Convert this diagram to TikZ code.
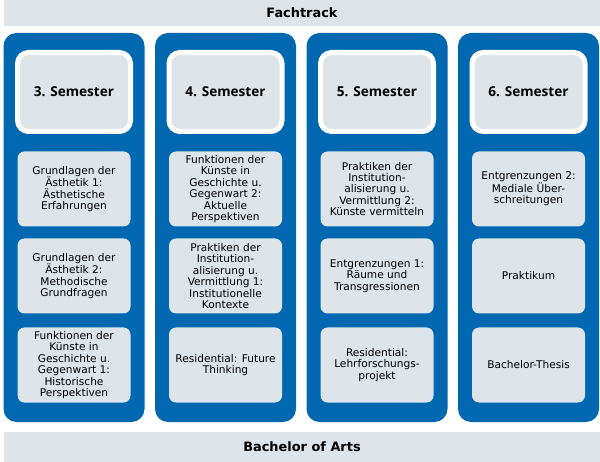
\documentclass[tikz,border=0pt]{standalone}
\usepackage{fontspec}
\setmainfont{DejaVu Sans}
\newfontfamily\semfont{Open Sans}

\definecolor{ftblue}{HTML}{0067B1}
\definecolor{ftpale}{HTML}{DDE4EA}

\begin{document}
\begin{tikzpicture}[
  x=1pt, y=-1pt,
  font=\fontsize{10.6}{11.4}\selectfont,
  bar/.style={fill=ftpale, minimum width=596pt, inner sep=0pt,
    font=\fontsize{12.9}{14}\selectfont\bfseries},
  column/.style={fill=ftblue, rounded corners=13pt,
    minimum width=141pt, minimum height=389pt},
  semhead/.style={fill=ftpale, draw=white, line width=5pt,
    rounded corners=11pt, minimum width=113pt, minimum height=79pt,
    font=\semfont\bfseries\fontsize{13.6}{16}\selectfont},
  course/.style={fill=ftpale, rounded corners=7pt, inner sep=0pt,
    minimum width=113pt, minimum height=75pt, align=center},
]
\useasboundingbox (0,0) rectangle (600,462);

\node[bar, minimum height=26pt] (fachtrack) at (302,13) {Fachtrack};
\node[bar, minimum height=30pt] (bachelor) at (302,447) {Bachelor of Arts};

\foreach \n/\x in {3/74, 4/225.5, 5/377, 6/528.5} {
  \node[column] (col\n) at (\x,227.5) {};
  \node[semhead] (sem\n) at (\x,92) {\n. Semester};
}

% 3. Semester
\node[course] (c3a) at (74,189) {Grundlagen der\\Ästhetik 1:\\Ästhetische\\Erfahrungen};
\node[course] (c3b) at (74,276) {Grundlagen der\\Ästhetik 2:\\Methodische\\Grundfragen};
\node[course] (c3c) at (74,365) {Funktionen der\\Künste in\\Geschichte u.\\Gegenwart 1:\\Historische\\Perspektiven};

% 4. Semester
\node[course] (c4a) at (225.5,189) {Funktionen der\\Künste in\\Geschichte u.\\Gegenwart 2:\\Aktuelle\\Perspektiven};
\node[course] (c4b) at (225.5,276) {Praktiken der\\Institution-\\alisierung u.\\Vermittlung 1:\\Institutionelle\\Kontexte};
\node[course] (c4c) at (225.5,365) {Residential: Future\\Thinking};

% 5. Semester
\node[course] (c5a) at (377,189) {Praktiken der\\Institution-\\alisierung u.\\Vermittlung 2:\\Künste vermitteln};
\node[course] (c5b) at (377,276) {Entgrenzungen 1:\\Räume und\\Transgressionen};
\node[course] (c5c) at (377,365) {Residential:\\Lehrforschungs-\\projekt};

% 6. Semester
\node[course] (c6a) at (528.5,189) {Entgrenzungen 2:\\Mediale Über-\\schreitungen};
\node[course] (c6b) at (528.5,276) {Praktikum};
\node[course] (c6c) at (528.5,365) {Bachelor-Thesis};

\end{tikzpicture}
\end{document}
